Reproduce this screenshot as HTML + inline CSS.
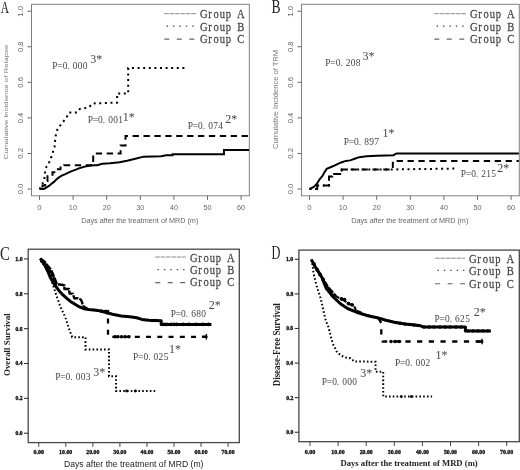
<!DOCTYPE html><html><head><meta charset="utf-8"><style>html,body{margin:0;padding:0;background:#fff;}svg{display:block;filter:blur(0.3px);}</style></head><body>
<svg width="520" height="470" viewBox="0 0 520 470">
<rect width="520" height="470" fill="#fff"/>
<rect x="31.5" y="4.3" width="217.8" height="191.5" fill="none" stroke="#808080" stroke-width="1"/>
<line x1="27.5" y1="189" x2="31.5" y2="189" stroke="#666" stroke-width="1" />
<text transform="translate(23.23 194.31) rotate(-90) scale(1.0840 1)" font-family='"Liberation Sans", sans-serif' font-weight="normal" font-size="7.042" fill="#666" >0.0</text>
<line x1="27.5" y1="153.44" x2="31.5" y2="153.44" stroke="#666" stroke-width="1" />
<text transform="translate(23.23 158.75) rotate(-90) scale(1.0923 1)" font-family='"Liberation Sans", sans-serif' font-weight="normal" font-size="7.042" fill="#666" >0.2</text>
<line x1="27.5" y1="117.88" x2="31.5" y2="117.88" stroke="#666" stroke-width="1" />
<text transform="translate(23.23 123.18) rotate(-90) scale(1.0758 1)" font-family='"Liberation Sans", sans-serif' font-weight="normal" font-size="7.042" fill="#666" >0.4</text>
<line x1="27.5" y1="82.32" x2="31.5" y2="82.32" stroke="#666" stroke-width="1" />
<text transform="translate(23.23 87.63) rotate(-90) scale(1.0881 1)" font-family='"Liberation Sans", sans-serif' font-weight="normal" font-size="7.042" fill="#666" >0.6</text>
<line x1="27.5" y1="46.76" x2="31.5" y2="46.76" stroke="#666" stroke-width="1" />
<text transform="translate(23.23 52.07) rotate(-90) scale(1.0840 1)" font-family='"Liberation Sans", sans-serif' font-weight="normal" font-size="7.042" fill="#666" >0.8</text>
<line x1="27.5" y1="11.2" x2="31.5" y2="11.2" stroke="#666" stroke-width="1" />
<text transform="translate(23.23 16.79) rotate(-90) scale(1.1137 1)" font-family='"Liberation Sans", sans-serif' font-weight="normal" font-size="7.042" fill="#666" >1.0</text>
<line x1="39.5" y1="195.8" x2="39.5" y2="199.8" stroke="#666" stroke-width="1" />
<text transform="translate(37.34 210.13) scale(1.1061 1)" font-family='"Liberation Sans", sans-serif' font-weight="normal" font-size="7.042" fill="#666" >0</text>
<line x1="73.1" y1="195.8" x2="73.1" y2="199.8" stroke="#666" stroke-width="1" />
<text transform="translate(68.84 210.13) scale(1.0561 1)" font-family='"Liberation Sans", sans-serif' font-weight="normal" font-size="7.042" fill="#666" >10</text>
<line x1="106.7" y1="195.8" x2="106.7" y2="199.8" stroke="#666" stroke-width="1" />
<text transform="translate(102.64 210.13) scale(1.0302 1)" font-family='"Liberation Sans", sans-serif' font-weight="normal" font-size="7.042" fill="#666" >20</text>
<line x1="140.3" y1="195.8" x2="140.3" y2="199.8" stroke="#666" stroke-width="1" />
<text transform="translate(136.31 210.13) scale(1.0202 1)" font-family='"Liberation Sans", sans-serif' font-weight="normal" font-size="7.042" fill="#666" >30</text>
<line x1="173.9" y1="195.8" x2="173.9" y2="199.8" stroke="#666" stroke-width="1" />
<text transform="translate(170.02 210.13) scale(1.0056 1)" font-family='"Liberation Sans", sans-serif' font-weight="normal" font-size="7.042" fill="#666" >40</text>
<line x1="207.5" y1="195.8" x2="207.5" y2="199.8" stroke="#666" stroke-width="1" />
<text transform="translate(203.51 210.13) scale(1.0202 1)" font-family='"Liberation Sans", sans-serif' font-weight="normal" font-size="7.042" fill="#666" >50</text>
<line x1="241.1" y1="195.8" x2="241.1" y2="199.8" stroke="#666" stroke-width="1" />
<text transform="translate(237.04 210.13) scale(1.0302 1)" font-family='"Liberation Sans", sans-serif' font-weight="normal" font-size="7.042" fill="#666" >60</text>
<text transform="translate(81.22 222.78) scale(0.9414 1)" font-family='"Liberation Sans", sans-serif' font-weight="normal" font-size="7.701" fill="#666" >Days after the treatment of MRD (m)</text>
<text transform="translate(8.24 159.19) rotate(-90) scale(1.3093 1)" font-family='"Liberation Sans", sans-serif' font-weight="normal" font-size="5.989" fill="#777" >Cumulative Incidence of Relapse</text>
<text transform="translate(0.69 12.7) scale(0.6481 1)" font-family='"Liberation Serif", serif' font-weight="normal" font-size="17.727" fill="#222" >A</text>
<line x1="164.3" y1="13.7" x2="196.3" y2="13.7" stroke="#888" stroke-width="1" stroke-dasharray="4.6 0.8"/>
<line x1="166.6" y1="26.1" x2="196.3" y2="26.1" stroke="#444" stroke-width="1.4" stroke-dasharray="1.4 5"/>
<line x1="164.3" y1="39.1" x2="196.3" y2="39.1" stroke="#666" stroke-width="1.1" stroke-dasharray="5 7.5"/>
<text transform="scale(0.84 1)" x="242.6 249.95 257.3 264.64 271.99 279.34 286.68" y="18.5" font-family='"Liberation Serif", serif' font-size="12.6" fill="#444" stroke="#444" stroke-width="0.25" text-anchor="middle">Group A</text>
<text transform="scale(0.84 1)" x="242.6 249.95 257.3 264.64 271.99 279.34 286.68" y="30.6" font-family='"Liberation Serif", serif' font-size="12.6" fill="#444" stroke="#444" stroke-width="0.25" text-anchor="middle">Group B</text>
<text transform="scale(0.84 1)" x="242.6 249.95 257.3 264.64 271.99 279.34 286.68" y="42.7" font-family='"Liberation Serif", serif' font-size="12.6" fill="#444" stroke="#444" stroke-width="0.25" text-anchor="middle">Group C</text>
<path d="M39.5,189 L43.87,189 L46.22,187.58 L48.91,185.98 L51.26,184.02 L53.95,181.89 L56.3,179.58 L58.65,177.62 L61.68,175.66 L65.37,174.06 L69.4,172.11 L73.1,170.69 L76.46,169.44 L80.83,167.66 L84.86,166.6 L89.23,165.71 L93.93,165.35 L96.96,165.17 L102.33,163.75 L110.06,163.22 L119.47,162.33 L128.2,160.55 L135.26,158.77 L143.66,156.64 L161.13,156.28 L166.17,155.22 L172.56,155.22 L172.56,154.15 L223.96,154.15 L223.96,150.06 L249,150.06" fill="none" stroke="#000" stroke-width="2" />
<path d="M39.5,189 L42.49,189 L42.49,185.41 L45.21,185.41 L45.21,181.11 L47.5,181.11 L47.5,176.2 L52.5,176.2 L52.5,172.2 L56.4,172.2 L56.4,169.19 L60.5,169.19 L60.5,167.5 L64.1,167.5 L64.1,165.3 L93.19,165.3 L93.19,153.6 L120.61,153.6 L120.61,145.49 L125.52,145.49 L125.52,135.89 L249,135.89" fill="none" stroke="#000" stroke-width="2" stroke-dasharray="6.3 4.6" stroke-dashoffset="6.39" />
<path d="M39.5,189 L42.09,185.44 L43.2,182.07 L44.88,176.55 L45.11,171.22 L46.49,166.6 L48.71,163.75 L50.18,159.84 L52.1,155.04 L53.21,151.13 L54.59,146.68 L54.96,141.71 L56.3,131.57 L58.99,126.95 L62.68,122.32 L66.38,117.88 L69.07,112.55 L77.13,112.55 L79.82,108.99 L88.89,107.39 L92.59,103.48 L117.12,102.59 L117.12,93.52 L128.2,93.52 L128.2,68.1 L184.99,68.1" fill="none" stroke="#000" stroke-width="2" stroke-dasharray="2 3.6" />
<text transform="scale(0.86 1)" x="63.87 69.74 75.61 79.72 87.35 93.23 99.1" y="69" font-family='"Liberation Serif", serif' font-size="11" fill="#444" font-weight="normal" text-anchor="middle" >P=0.000</text>
<text x="93.2 99.2" y="62.7" font-family='"Liberation Serif", serif' font-size="12" fill="#444" font-weight="normal" text-anchor="middle" >3*</text>
<text transform="scale(0.86 1)" x="105.03 110.9 116.77 120.88 128.52 134.39 140.26" y="123.5" font-family='"Liberation Serif", serif' font-size="11" fill="#444" font-weight="normal" text-anchor="middle" >P=0.001</text>
<text x="125.8 131.8" y="120.6" font-family='"Liberation Serif", serif' font-size="12" fill="#444" font-weight="normal" text-anchor="middle" >1*</text>
<text transform="scale(0.86 1)" x="221.31 227.18 233.05 237.16 244.8 250.67 256.54" y="128.6" font-family='"Liberation Serif", serif' font-size="11" fill="#444" font-weight="normal" text-anchor="middle" >P=0.074</text>
<text x="228.3 234.3" y="122.8" font-family='"Liberation Serif", serif' font-size="12" fill="#444" font-weight="normal" text-anchor="middle" >2*</text>
<rect x="301.5" y="4.3" width="217.8" height="191.5" fill="none" stroke="#808080" stroke-width="1"/>
<line x1="297.5" y1="189" x2="301.5" y2="189" stroke="#666" stroke-width="1" />
<text transform="translate(293.23 194.31) rotate(-90) scale(1.0840 1)" font-family='"Liberation Sans", sans-serif' font-weight="normal" font-size="7.042" fill="#666" >0.0</text>
<line x1="297.5" y1="153.44" x2="301.5" y2="153.44" stroke="#666" stroke-width="1" />
<text transform="translate(293.23 158.75) rotate(-90) scale(1.0923 1)" font-family='"Liberation Sans", sans-serif' font-weight="normal" font-size="7.042" fill="#666" >0.2</text>
<line x1="297.5" y1="117.88" x2="301.5" y2="117.88" stroke="#666" stroke-width="1" />
<text transform="translate(293.23 123.18) rotate(-90) scale(1.0758 1)" font-family='"Liberation Sans", sans-serif' font-weight="normal" font-size="7.042" fill="#666" >0.4</text>
<line x1="297.5" y1="82.32" x2="301.5" y2="82.32" stroke="#666" stroke-width="1" />
<text transform="translate(293.23 87.63) rotate(-90) scale(1.0881 1)" font-family='"Liberation Sans", sans-serif' font-weight="normal" font-size="7.042" fill="#666" >0.6</text>
<line x1="297.5" y1="46.76" x2="301.5" y2="46.76" stroke="#666" stroke-width="1" />
<text transform="translate(293.23 52.07) rotate(-90) scale(1.0840 1)" font-family='"Liberation Sans", sans-serif' font-weight="normal" font-size="7.042" fill="#666" >0.8</text>
<line x1="297.5" y1="11.2" x2="301.5" y2="11.2" stroke="#666" stroke-width="1" />
<text transform="translate(293.23 16.79) rotate(-90) scale(1.1137 1)" font-family='"Liberation Sans", sans-serif' font-weight="normal" font-size="7.042" fill="#666" >1.0</text>
<line x1="309.5" y1="195.8" x2="309.5" y2="199.8" stroke="#666" stroke-width="1" />
<text transform="translate(307.34 210.13) scale(1.1061 1)" font-family='"Liberation Sans", sans-serif' font-weight="normal" font-size="7.042" fill="#666" >0</text>
<line x1="343.1" y1="195.8" x2="343.1" y2="199.8" stroke="#666" stroke-width="1" />
<text transform="translate(338.84 210.13) scale(1.0561 1)" font-family='"Liberation Sans", sans-serif' font-weight="normal" font-size="7.042" fill="#666" >10</text>
<line x1="376.7" y1="195.8" x2="376.7" y2="199.8" stroke="#666" stroke-width="1" />
<text transform="translate(372.64 210.13) scale(1.0302 1)" font-family='"Liberation Sans", sans-serif' font-weight="normal" font-size="7.042" fill="#666" >20</text>
<line x1="410.3" y1="195.8" x2="410.3" y2="199.8" stroke="#666" stroke-width="1" />
<text transform="translate(406.31 210.13) scale(1.0202 1)" font-family='"Liberation Sans", sans-serif' font-weight="normal" font-size="7.042" fill="#666" >30</text>
<line x1="443.9" y1="195.8" x2="443.9" y2="199.8" stroke="#666" stroke-width="1" />
<text transform="translate(440.02 210.13) scale(1.0056 1)" font-family='"Liberation Sans", sans-serif' font-weight="normal" font-size="7.042" fill="#666" >40</text>
<line x1="477.5" y1="195.8" x2="477.5" y2="199.8" stroke="#666" stroke-width="1" />
<text transform="translate(473.51 210.13) scale(1.0202 1)" font-family='"Liberation Sans", sans-serif' font-weight="normal" font-size="7.042" fill="#666" >50</text>
<line x1="511.1" y1="195.8" x2="511.1" y2="199.8" stroke="#666" stroke-width="1" />
<text transform="translate(507.04 210.13) scale(1.0302 1)" font-family='"Liberation Sans", sans-serif' font-weight="normal" font-size="7.042" fill="#666" >60</text>
<text transform="translate(351.22 222.78) scale(0.9414 1)" font-family='"Liberation Sans", sans-serif' font-weight="normal" font-size="7.701" fill="#666" >Days after the treatment of MRD (m)</text>
<text transform="translate(278.33 148.88) rotate(-90) scale(1.1123 1)" font-family='"Liberation Sans", sans-serif' font-weight="normal" font-size="6.803" fill="#777" >Cumulative Incidence of TRM</text>
<text transform="translate(271.59 12.61) scale(0.7217 1)" font-family='"Liberation Serif", serif' font-weight="normal" font-size="18.788" fill="#222" >B</text>
<line x1="434.3" y1="13.7" x2="466.3" y2="13.7" stroke="#888" stroke-width="1" stroke-dasharray="4.6 0.8"/>
<line x1="436.6" y1="26.1" x2="466.3" y2="26.1" stroke="#444" stroke-width="1.4" stroke-dasharray="1.4 5"/>
<line x1="434.3" y1="39.1" x2="466.3" y2="39.1" stroke="#666" stroke-width="1.1" stroke-dasharray="5 7.5"/>
<text transform="scale(0.84 1)" x="564.03 571.38 578.72 586.07 593.42 600.77 608.11" y="18.5" font-family='"Liberation Serif", serif' font-size="12.6" fill="#444" stroke="#444" stroke-width="0.25" text-anchor="middle">Group A</text>
<text transform="scale(0.84 1)" x="564.03 571.38 578.72 586.07 593.42 600.77 608.11" y="30.6" font-family='"Liberation Serif", serif' font-size="12.6" fill="#444" stroke="#444" stroke-width="0.25" text-anchor="middle">Group B</text>
<text transform="scale(0.84 1)" x="564.03 571.38 578.72 586.07 593.42 600.77 608.11" y="42.7" font-family='"Liberation Serif", serif' font-size="12.6" fill="#444" stroke="#444" stroke-width="0.25" text-anchor="middle">Group C</text>
<path d="M309.5,189 L313.8,186.87 L317.19,183.49 L319.41,179.58 L322.4,176.02 L324.59,172.11 L326.7,168.73 L331.1,166.95 L335.37,165.17 L340.61,162.69 L345.79,160.91 L350.16,160.37 L354.69,158.77 L359.23,157.17 L366.62,156.28 L376.7,155.75 L393.5,155.22 L396.52,153.44 L518.83,153.44" fill="none" stroke="#000" stroke-width="2" />
<path d="M309.5,189 L317.23,189 L317.23,185.44 L328.99,185.44 L328.99,176.55 L332.35,176.55 L332.35,173.89 L341.76,173.89 L341.76,169.44 L392.83,169.44 L392.83,160.91 L518.83,160.91" fill="none" stroke="#000" stroke-width="2" stroke-dasharray="6.3 4.6" stroke-dashoffset="4.71" />
<path d="M309.5,189 L317.23,189 L317.23,185.44 L328.99,185.44 L328.99,176.55 L332.35,176.55 L332.35,173.89 L341.76,173.89 L341.76,169.44 L392.83,169.44 L454.99,168.55" fill="none" stroke="#000" stroke-width="2" stroke-dasharray="2 3.6" />
<text transform="scale(0.86 1)" x="381.31 387.18 393.05 397.16 404.8 410.67 416.54" y="66.5" font-family='"Liberation Serif", serif' font-size="11" fill="#444" font-weight="normal" text-anchor="middle" >P=0.208</text>
<text x="365.5 371.5" y="59.8" font-family='"Liberation Serif", serif' font-size="12" fill="#444" font-weight="normal" text-anchor="middle" >3*</text>
<text transform="scale(0.86 1)" x="402.7 408.58 414.45 418.56 426.19 432.06 437.94" y="145.3" font-family='"Liberation Serif", serif' font-size="11" fill="#444" font-weight="normal" text-anchor="middle" >P=0.897</text>
<text x="385.5 391.5" y="136.5" font-family='"Liberation Serif", serif' font-size="12" fill="#444" font-weight="normal" text-anchor="middle" >1*</text>
<text transform="scale(0.86 1)" x="538.87 544.74 550.61 554.72 562.35 568.23 574.1" y="177.2" font-family='"Liberation Serif", serif' font-size="11" fill="#444" font-weight="normal" text-anchor="middle" >P=0.215</text>
<text x="500.3 506.3" y="171.8" font-family='"Liberation Serif", serif' font-size="12" fill="#444" font-weight="normal" text-anchor="middle" >2*</text>
<rect x="28.2" y="249.2" width="211.1" height="193.4" fill="none" stroke="#484848" stroke-width="1.3"/>
<line x1="24" y1="433.25" x2="28.2" y2="433.25" stroke="#333" stroke-width="1.1" />
<text transform="translate(15.57 435.16) scale(0.9590 1)" font-family='"Liberation Serif", serif' font-weight="bold" font-size="5.882" fill="#111" stroke="#111" stroke-width="0.35">0.0</text>
<line x1="24" y1="398.38" x2="28.2" y2="398.38" stroke="#333" stroke-width="1.1" />
<text transform="translate(15.57 400.29) scale(0.9631 1)" font-family='"Liberation Serif", serif' font-weight="bold" font-size="5.882" fill="#111" stroke="#111" stroke-width="0.35">0.2</text>
<line x1="24" y1="363.51" x2="28.2" y2="363.51" stroke="#333" stroke-width="1.1" />
<text transform="translate(15.58 365.42) scale(0.9429 1)" font-family='"Liberation Serif", serif' font-weight="bold" font-size="5.882" fill="#111" stroke="#111" stroke-width="0.35">0.4</text>
<line x1="24" y1="328.64" x2="28.2" y2="328.64" stroke="#333" stroke-width="1.1" />
<text transform="translate(15.58 330.55) scale(0.9508 1)" font-family='"Liberation Serif", serif' font-weight="bold" font-size="5.882" fill="#111" stroke="#111" stroke-width="0.35">0.6</text>
<line x1="24" y1="293.77" x2="28.2" y2="293.77" stroke="#333" stroke-width="1.1" />
<text transform="translate(15.58 295.68) scale(0.9549 1)" font-family='"Liberation Serif", serif' font-weight="bold" font-size="5.882" fill="#111" stroke="#111" stroke-width="0.35">0.8</text>
<line x1="24" y1="258.9" x2="28.2" y2="258.9" stroke="#333" stroke-width="1.1" />
<text transform="translate(15.33 260.81) scale(0.9929 1)" font-family='"Liberation Serif", serif' font-weight="bold" font-size="5.882" fill="#111" stroke="#111" stroke-width="0.35">1.0</text>
<line x1="38.75" y1="442.6" x2="38.75" y2="446.9" stroke="#444" stroke-width="1" />
<text transform="translate(33.41 453.82) scale(1.1225 1)" font-family='"Liberation Serif", serif' font-weight="bold" font-size="5.441" fill="#111" stroke="#111" stroke-width="0.3">0.00</text>
<line x1="65.8" y1="442.6" x2="65.8" y2="446.9" stroke="#444" stroke-width="1" />
<text transform="translate(59.03 453.82) scale(1.0872 1)" font-family='"Liberation Serif", serif' font-weight="bold" font-size="5.441" fill="#111" stroke="#111" stroke-width="0.3">10.00</text>
<line x1="92.85" y1="442.6" x2="92.85" y2="446.9" stroke="#444" stroke-width="1" />
<text transform="translate(86.32 453.82) scale(1.0671 1)" font-family='"Liberation Serif", serif' font-weight="bold" font-size="5.441" fill="#111" stroke="#111" stroke-width="0.3">20.00</text>
<line x1="119.9" y1="442.6" x2="119.9" y2="446.9" stroke="#444" stroke-width="1" />
<text transform="translate(113.37 453.82) scale(1.0671 1)" font-family='"Liberation Serif", serif' font-weight="bold" font-size="5.441" fill="#111" stroke="#111" stroke-width="0.3">30.00</text>
<line x1="146.95" y1="442.6" x2="146.95" y2="446.9" stroke="#444" stroke-width="1" />
<text transform="translate(140.56 453.82) scale(1.0550 1)" font-family='"Liberation Serif", serif' font-weight="bold" font-size="5.441" fill="#111" stroke="#111" stroke-width="0.3">40.00</text>
<line x1="174" y1="442.6" x2="174" y2="446.9" stroke="#444" stroke-width="1" />
<text transform="translate(167.47 453.82) scale(1.0671 1)" font-family='"Liberation Serif", serif' font-weight="bold" font-size="5.441" fill="#111" stroke="#111" stroke-width="0.3">50.00</text>
<line x1="201.05" y1="442.6" x2="201.05" y2="446.9" stroke="#444" stroke-width="1" />
<text transform="translate(194.55 453.82) scale(1.0647 1)" font-family='"Liberation Serif", serif' font-weight="bold" font-size="5.441" fill="#111" stroke="#111" stroke-width="0.3">60.00</text>
<line x1="228.1" y1="442.6" x2="228.1" y2="446.9" stroke="#444" stroke-width="1" />
<text transform="translate(221.48 453.82) scale(1.0746 1)" font-family='"Liberation Serif", serif' font-weight="bold" font-size="5.441" fill="#111" stroke="#111" stroke-width="0.3">70.00</text>
<text transform="translate(63.91 467.43) scale(1.0233 1)" font-family='"Liberation Sans", sans-serif' font-weight="normal" font-size="8.449" fill="#222" >Days after the treatment of MRD (m)</text>
<text transform="translate(9.81 375.94) rotate(-90) scale(0.9906 1)" font-family='"Liberation Serif", serif' font-weight="bold" font-size="8.936" fill="#222" >Overall Survival</text>
<text transform="translate(0.01 259.61) scale(0.7654 1)" font-family='"Liberation Serif", serif' font-weight="normal" font-size="19.254" fill="#222" >C</text>
<line x1="155.2" y1="257" x2="185.5" y2="257" stroke="#888" stroke-width="1" stroke-dasharray="4.6 0.8"/>
<line x1="157.5" y1="269.6" x2="185.5" y2="269.6" stroke="#444" stroke-width="1.4" stroke-dasharray="1.4 5"/>
<line x1="155.2" y1="282.6" x2="185.5" y2="282.6" stroke="#666" stroke-width="1.1" stroke-dasharray="5 7.5"/>
<text transform="scale(0.84 1)" x="230.7 238.04 245.39 252.74 260.09 267.43 274.78" y="261.8" font-family='"Liberation Serif", serif' font-size="12.6" fill="#444" stroke="#444" stroke-width="0.25" text-anchor="middle">Group A</text>
<text transform="scale(0.84 1)" x="230.7 238.04 245.39 252.74 260.09 267.43 274.78" y="274" font-family='"Liberation Serif", serif' font-size="12.6" fill="#444" stroke="#444" stroke-width="0.25" text-anchor="middle">Group B</text>
<text transform="scale(0.84 1)" x="230.7 238.04 245.39 252.74 260.09 267.43 274.78" y="286.4" font-family='"Liberation Serif", serif' font-size="12.6" fill="#444" stroke="#444" stroke-width="0.25" text-anchor="middle">Group C</text>
<path d="M40.3,258.5 L45.2,266 L47.8,271.3 L50.3,277.5 L54.1,284 L58.8,290.4 L62.7,294.7 L66.5,298.1 L70.4,301.4 L74.2,303.8 L79,306.7 L83.8,308.7 L88.7,309.6 L93.5,310.1 L98.3,310.6 L103.1,311.5 L108,313 L112.5,314.2 L121.2,316 L129.8,316.8 L136.7,317.7 L141.9,319.4 L148.8,320.3 L161.2,320.8 L161.2,324.4 L211.4,324.4" fill="none" stroke="#000" stroke-width="3.0" stroke-linejoin="round"/>
<path d="M40.3,258.5 L45,262 L47.5,265.5 L50.5,269 L52.5,273 L54.5,278 L56,281.6 L56.6,284.5 L59.8,284.5 L64.4,285.2 L64.4,289 L69,289 L69.6,293.6 L72.9,293.6 L74.2,298.2 L78.1,298.2 L80.8,299.5 L82,302.1 L83,306" fill="none" stroke="#000" stroke-width="2.4" stroke-dasharray="7 1.2" stroke-linejoin="round"/>
<path d="M83,306 L88.7,309.4 L98.3,310.4 L108,311 L108,336.8 L207.1,336.8" fill="none" stroke="#000" stroke-width="2.3" stroke-dasharray="5.0 6.25" stroke-dashoffset="0.14" />
<path d="M40.3,258.5 L45,266 L48,272 L51,279 L53,285 L55,291 L56.5,296 L58,300 L60,305.8 L61.7,309.6 L63.7,313.5 L65.6,318.3 L67.5,324 L69,328.7 L71,334 L72.2,337.2 L85.5,337.2 L85.5,349.4 L109,349.4 L109,376.2 L116,376.2 L116,391 L156.2,391" fill="none" stroke="#000" stroke-width="2.0" stroke-dasharray="1.6 2.2" />
<text transform="scale(0.86 1)" x="201.54 207.41 213.28 217.4 225.03 230.9 236.77" y="316.6" font-family='"Liberation Serif", serif' font-size="11" fill="#444" font-weight="normal" text-anchor="middle" >P=0.680</text>
<text x="211.8 217.8" y="308.8" font-family='"Liberation Serif", serif' font-size="12" fill="#444" font-weight="normal" text-anchor="middle" >2*</text>
<text transform="scale(0.86 1)" x="157.82 163.69 169.56 173.67 181.31 187.18 193.05" y="359.9" font-family='"Liberation Serif", serif' font-size="11" fill="#444" font-weight="normal" text-anchor="middle" >P=0.025</text>
<text x="172 178" y="353.2" font-family='"Liberation Serif", serif' font-size="12" fill="#444" font-weight="normal" text-anchor="middle" >1*</text>
<text transform="scale(0.86 1)" x="67.24 73.11 78.98 83.09 90.73 96.6 102.47" y="380.2" font-family='"Liberation Serif", serif' font-size="11" fill="#444" font-weight="normal" text-anchor="middle" >P=0.003</text>
<text x="96.2 102.2" y="376.2" font-family='"Liberation Serif", serif' font-size="12" fill="#444" font-weight="normal" text-anchor="middle" >3*</text>
<rect x="298.9" y="250.1" width="220.4" height="191.6" fill="none" stroke="#484848" stroke-width="1.3"/>
<line x1="294.7" y1="432.25" x2="298.9" y2="432.25" stroke="#333" stroke-width="1.1" />
<text transform="translate(286.17 434.16) scale(0.9590 1)" font-family='"Liberation Serif", serif' font-weight="bold" font-size="5.882" fill="#111" stroke="#111" stroke-width="0.35">0.0</text>
<line x1="294.7" y1="397.66" x2="298.9" y2="397.66" stroke="#333" stroke-width="1.1" />
<text transform="translate(286.17 399.57) scale(0.9631 1)" font-family='"Liberation Serif", serif' font-weight="bold" font-size="5.882" fill="#111" stroke="#111" stroke-width="0.35">0.2</text>
<line x1="294.7" y1="363.07" x2="298.9" y2="363.07" stroke="#333" stroke-width="1.1" />
<text transform="translate(286.18 364.98) scale(0.9429 1)" font-family='"Liberation Serif", serif' font-weight="bold" font-size="5.882" fill="#111" stroke="#111" stroke-width="0.35">0.4</text>
<line x1="294.7" y1="328.48" x2="298.9" y2="328.48" stroke="#333" stroke-width="1.1" />
<text transform="translate(286.18 330.39) scale(0.9508 1)" font-family='"Liberation Serif", serif' font-weight="bold" font-size="5.882" fill="#111" stroke="#111" stroke-width="0.35">0.6</text>
<line x1="294.7" y1="293.89" x2="298.9" y2="293.89" stroke="#333" stroke-width="1.1" />
<text transform="translate(286.18 295.8) scale(0.9549 1)" font-family='"Liberation Serif", serif' font-weight="bold" font-size="5.882" fill="#111" stroke="#111" stroke-width="0.35">0.8</text>
<line x1="294.7" y1="259.3" x2="298.9" y2="259.3" stroke="#333" stroke-width="1.1" />
<text transform="translate(285.93 261.21) scale(0.9929 1)" font-family='"Liberation Serif", serif' font-weight="bold" font-size="5.882" fill="#111" stroke="#111" stroke-width="0.35">1.0</text>
<line x1="310" y1="441.7" x2="310" y2="446" stroke="#444" stroke-width="1" />
<text transform="translate(304.66 453.82) scale(1.1225 1)" font-family='"Liberation Serif", serif' font-weight="bold" font-size="5.441" fill="#111" stroke="#111" stroke-width="0.3">0.00</text>
<line x1="338.1" y1="441.7" x2="338.1" y2="446" stroke="#444" stroke-width="1" />
<text transform="translate(331.33 453.82) scale(1.0872 1)" font-family='"Liberation Serif", serif' font-weight="bold" font-size="5.441" fill="#111" stroke="#111" stroke-width="0.3">10.00</text>
<line x1="366.2" y1="441.7" x2="366.2" y2="446" stroke="#444" stroke-width="1" />
<text transform="translate(359.67 453.82) scale(1.0671 1)" font-family='"Liberation Serif", serif' font-weight="bold" font-size="5.441" fill="#111" stroke="#111" stroke-width="0.3">20.00</text>
<line x1="394.3" y1="441.7" x2="394.3" y2="446" stroke="#444" stroke-width="1" />
<text transform="translate(387.77 453.82) scale(1.0671 1)" font-family='"Liberation Serif", serif' font-weight="bold" font-size="5.441" fill="#111" stroke="#111" stroke-width="0.3">30.00</text>
<line x1="422.4" y1="441.7" x2="422.4" y2="446" stroke="#444" stroke-width="1" />
<text transform="translate(416.01 453.82) scale(1.0550 1)" font-family='"Liberation Serif", serif' font-weight="bold" font-size="5.441" fill="#111" stroke="#111" stroke-width="0.3">40.00</text>
<line x1="450.5" y1="441.7" x2="450.5" y2="446" stroke="#444" stroke-width="1" />
<text transform="translate(443.97 453.82) scale(1.0671 1)" font-family='"Liberation Serif", serif' font-weight="bold" font-size="5.441" fill="#111" stroke="#111" stroke-width="0.3">50.00</text>
<line x1="478.6" y1="441.7" x2="478.6" y2="446" stroke="#444" stroke-width="1" />
<text transform="translate(472.1 453.82) scale(1.0647 1)" font-family='"Liberation Serif", serif' font-weight="bold" font-size="5.441" fill="#111" stroke="#111" stroke-width="0.3">60.00</text>
<line x1="506.7" y1="441.7" x2="506.7" y2="446" stroke="#444" stroke-width="1" />
<text transform="translate(500.08 453.82) scale(1.0746 1)" font-family='"Liberation Serif", serif' font-weight="bold" font-size="5.441" fill="#111" stroke="#111" stroke-width="0.3">70.00</text>
<text transform="translate(340.43 466.45) scale(1.0602 1)" font-family='"Liberation Serif", serif' font-weight="bold" font-size="8.152" fill="#222" >Days after the treatment of MRD (m)</text>
<text transform="translate(279.9 386.28) rotate(-90) scale(0.9140 1)" font-family='"Liberation Serif", serif' font-weight="bold" font-size="9.787" fill="#222" >Disease-Free Survival</text>
<text transform="translate(271.43 259.4) scale(0.6554 1)" font-family='"Liberation Serif", serif' font-weight="normal" font-size="18.779" fill="#222" >D</text>
<line x1="435.1" y1="258.2" x2="465.1" y2="258.2" stroke="#888" stroke-width="1" stroke-dasharray="4.6 0.8"/>
<line x1="437.4" y1="270.4" x2="465.1" y2="270.4" stroke="#444" stroke-width="1.4" stroke-dasharray="1.4 5"/>
<line x1="435.1" y1="283.8" x2="465.1" y2="283.8" stroke="#666" stroke-width="1.1" stroke-dasharray="5 7.5"/>
<text transform="scale(0.84 1)" x="562.89 570.34 577.79 585.24 592.69 600.14 607.59" y="262.8" font-family='"Liberation Serif", serif' font-size="12.6" fill="#444" stroke="#444" stroke-width="0.25" text-anchor="middle">Group A</text>
<text transform="scale(0.84 1)" x="562.89 570.34 577.79 585.24 592.69 600.14 607.59" y="275" font-family='"Liberation Serif", serif' font-size="12.6" fill="#444" stroke="#444" stroke-width="0.25" text-anchor="middle">Group B</text>
<text transform="scale(0.84 1)" x="562.89 570.34 577.79 585.24 592.69 600.14 607.59" y="288.2" font-family='"Liberation Serif", serif' font-size="12.6" fill="#444" stroke="#444" stroke-width="0.25" text-anchor="middle">Group C</text>
<path d="M311.4,259.6 L315.6,267.5 L318.8,272.2 L322,277.5 L324.1,282.9 L326.3,288.5 L329.5,292.4 L332.7,296.5 L335.9,299.5 L341.2,304.3 L347.6,308.5 L358.2,312.8 L368.8,316 L377.3,317.7 L385.9,320.2 L394.4,322.3 L405,324 L410.4,324.5 L420.7,325.8 L423.2,327 L465.4,327 L465.4,330.9 L490.9,330.9" fill="none" stroke="#000" stroke-width="3.0" stroke-linejoin="round"/>
<path d="M311.4,259.6 L317.8,271.4 L324.1,280.9 L328.4,287.4 L336.9,296.9 L343.3,300 L349.7,304.3 L353.9,305.3 L356,310.6" fill="none" stroke="#000" stroke-width="2.1" stroke-dasharray="7 1.2" stroke-linejoin="round"/>
<path d="M356,310.6 L368.8,315.5 L378,317.5 L381.3,323 L381.3,335.3 L382.7,341.5 L483.2,341.5" fill="none" stroke="#000" stroke-width="2.3" stroke-dasharray="5.2 6.5" stroke-dashoffset="11.01" />
<path d="M311.4,259.6 L312.4,264.8 L313,268 L313.5,273.3 L314.6,277.5 L315.6,281.8 L316.7,286 L318.3,291.4 L319.9,295.6 L321,299.9 L321.8,303 L324.1,313.8 L326.3,322.3 L327.7,324.5 L329.6,331.5 L331.5,339.1 L333.4,344.9 L335.3,348.7 L337.2,352.6 L341.1,355.4 L344.9,357.3 L350.6,358.3 L354.5,361.5 L375.5,361.7 L375.5,371.7 L383.2,371.7 L383.2,396.6 L432.1,396.6" fill="none" stroke="#000" stroke-width="2.0" stroke-dasharray="1.6 2.2" />
<text transform="scale(0.86 1)" x="508.4 514.27 520.15 524.26 531.89 537.76 543.63" y="321.9" font-family='"Liberation Serif", serif' font-size="11" fill="#444" font-weight="normal" text-anchor="middle" >P=0.625</text>
<text x="476.8 482.8" y="315.5" font-family='"Liberation Serif", serif' font-size="12" fill="#444" font-weight="normal" text-anchor="middle" >2*</text>
<text transform="scale(0.86 1)" x="462.35 468.23 474.1 478.21 485.84 491.72 497.59" y="365.9" font-family='"Liberation Serif", serif' font-size="11" fill="#444" font-weight="normal" text-anchor="middle" >P=0.002</text>
<text x="438.5 444.5" y="359" font-family='"Liberation Serif", serif' font-size="12" fill="#444" font-weight="normal" text-anchor="middle" >1*</text>
<text transform="scale(0.86 1)" x="377.24 383.11 388.98 393.09 400.73 406.6 412.47" y="384.7" font-family='"Liberation Serif", serif' font-size="11" fill="#444" font-weight="normal" text-anchor="middle" >P=0.000</text>
<text x="363.2 369.2" y="376.9" font-family='"Liberation Serif", serif' font-size="12" fill="#444" font-weight="normal" text-anchor="middle" >3*</text>
<ellipse cx="101" cy="311.11" rx="1.9" ry="1.8" fill="#000"/>
<ellipse cx="104" cy="311.78" rx="1.9" ry="1.8" fill="#000"/>
<ellipse cx="107" cy="312.69" rx="1.9" ry="1.8" fill="#000"/>
<ellipse cx="152" cy="320.43" rx="1.9" ry="1.8" fill="#000"/>
<ellipse cx="155" cy="320.55" rx="1.9" ry="1.8" fill="#000"/>
<ellipse cx="164" cy="324.4" rx="1.9" ry="1.8" fill="#000"/>
<ellipse cx="166.5" cy="324.4" rx="1.9" ry="1.8" fill="#000"/>
<ellipse cx="171" cy="324.4" rx="1.9" ry="1.8" fill="#000"/>
<ellipse cx="174" cy="324.4" rx="1.9" ry="1.8" fill="#000"/>
<ellipse cx="176.5" cy="324.4" rx="1.9" ry="1.8" fill="#000"/>
<ellipse cx="183" cy="324.4" rx="1.9" ry="1.8" fill="#000"/>
<ellipse cx="189" cy="324.4" rx="1.9" ry="1.8" fill="#000"/>
<ellipse cx="196" cy="324.4" rx="1.9" ry="1.8" fill="#000"/>
<ellipse cx="203" cy="324.4" rx="1.9" ry="1.8" fill="#000"/>
<ellipse cx="208.5" cy="324.4" rx="1.9" ry="1.8" fill="#000"/>
<ellipse cx="115" cy="336.8" rx="1.8" ry="1.7" fill="#000"/>
<ellipse cx="118" cy="336.8" rx="1.8" ry="1.7" fill="#000"/>
<ellipse cx="121.5" cy="336.8" rx="1.8" ry="1.7" fill="#000"/>
<ellipse cx="125" cy="336.8" rx="1.8" ry="1.7" fill="#000"/>
<ellipse cx="129" cy="336.8" rx="1.8" ry="1.7" fill="#000"/>
<ellipse cx="396" cy="322.56" rx="1.8" ry="1.7" fill="#000"/>
<ellipse cx="400" cy="323.2" rx="1.8" ry="1.7" fill="#000"/>
<ellipse cx="405" cy="324" rx="1.8" ry="1.7" fill="#000"/>
<ellipse cx="410" cy="324.46" rx="1.8" ry="1.7" fill="#000"/>
<ellipse cx="414" cy="324.95" rx="1.8" ry="1.7" fill="#000"/>
<ellipse cx="418" cy="325.46" rx="1.8" ry="1.7" fill="#000"/>
<ellipse cx="424" cy="327" rx="1.8" ry="1.7" fill="#000"/>
<ellipse cx="429" cy="327" rx="1.8" ry="1.7" fill="#000"/>
<ellipse cx="434" cy="327" rx="1.8" ry="1.7" fill="#000"/>
<ellipse cx="440" cy="327" rx="1.8" ry="1.7" fill="#000"/>
<ellipse cx="445" cy="327" rx="1.8" ry="1.7" fill="#000"/>
<ellipse cx="450" cy="327" rx="1.8" ry="1.7" fill="#000"/>
<ellipse cx="456" cy="327" rx="1.8" ry="1.7" fill="#000"/>
<ellipse cx="461" cy="327" rx="1.8" ry="1.7" fill="#000"/>
<ellipse cx="468" cy="330.9" rx="1.8" ry="1.7" fill="#000"/>
<ellipse cx="473" cy="330.9" rx="1.8" ry="1.7" fill="#000"/>
<ellipse cx="478" cy="330.9" rx="1.8" ry="1.7" fill="#000"/>
<ellipse cx="483" cy="330.9" rx="1.8" ry="1.7" fill="#000"/>
<ellipse cx="488" cy="330.9" rx="1.8" ry="1.7" fill="#000"/>
<ellipse cx="391" cy="341.5" rx="1.8" ry="1.7" fill="#000"/>
<ellipse cx="395" cy="341.5" rx="1.8" ry="1.7" fill="#000"/>
<ellipse cx="399.5" cy="341.5" rx="1.8" ry="1.7" fill="#000"/>
<ellipse cx="42" cy="261" rx="2.0" ry="2.0" fill="#000"/>
<ellipse cx="44" cy="263.5" rx="2.0" ry="2.0" fill="#000"/>
<ellipse cx="46" cy="265.5" rx="2.0" ry="2.0" fill="#000"/>
<ellipse cx="48" cy="268.5" rx="2.0" ry="2.0" fill="#000"/>
<ellipse cx="50" cy="271.5" rx="2.0" ry="2.0" fill="#000"/>
<ellipse cx="52" cy="275" rx="2.0" ry="2.0" fill="#000"/>
<ellipse cx="53.8" cy="279" rx="2.0" ry="2.0" fill="#000"/>
<ellipse cx="55.3" cy="282.5" rx="2.0" ry="2.0" fill="#000"/>
<ellipse cx="314" cy="264" rx="1.9" ry="1.9" fill="#000"/>
<ellipse cx="317" cy="269.5" rx="1.9" ry="1.9" fill="#000"/>
<ellipse cx="320" cy="274.5" rx="1.9" ry="1.9" fill="#000"/>
<ellipse cx="323" cy="279.5" rx="1.9" ry="1.9" fill="#000"/>
<ellipse cx="325.5" cy="284" rx="1.9" ry="1.9" fill="#000"/>
<ellipse cx="328" cy="288.5" rx="1.9" ry="1.9" fill="#000"/>
<ellipse cx="331" cy="292" rx="1.9" ry="1.9" fill="#000"/>
<ellipse cx="334" cy="295.5" rx="1.9" ry="1.9" fill="#000"/>
<ellipse cx="341.5" cy="298.8" rx="1.9" ry="1.9" fill="#000"/>
<ellipse cx="344.5" cy="299.6" rx="1.9" ry="1.9" fill="#000"/>
<ellipse cx="348.5" cy="303.6" rx="1.9" ry="1.9" fill="#000"/>
<ellipse cx="352" cy="304.8" rx="1.9" ry="1.9" fill="#000"/>
<ellipse cx="126.7" cy="391" rx="1.5" ry="1.4" fill="#000"/>
<ellipse cx="135.4" cy="391" rx="1.5" ry="1.4" fill="#000"/>
<ellipse cx="401.3" cy="396.6" rx="1.5" ry="1.4" fill="#000"/>
<ellipse cx="411.3" cy="396.6" rx="1.5" ry="1.4" fill="#000"/>
<line x1="202" y1="336.8" x2="207.5" y2="336.8" stroke="#000" stroke-width="2.3" />
<line x1="206.3" y1="334" x2="206.3" y2="339.6" stroke="#000" stroke-width="1.4" />
<line x1="476.5" y1="341.5" x2="483.3" y2="341.5" stroke="#000" stroke-width="2.3" />
<line x1="482" y1="338.8" x2="482" y2="344.2" stroke="#000" stroke-width="1.4" />
</svg></body></html>
